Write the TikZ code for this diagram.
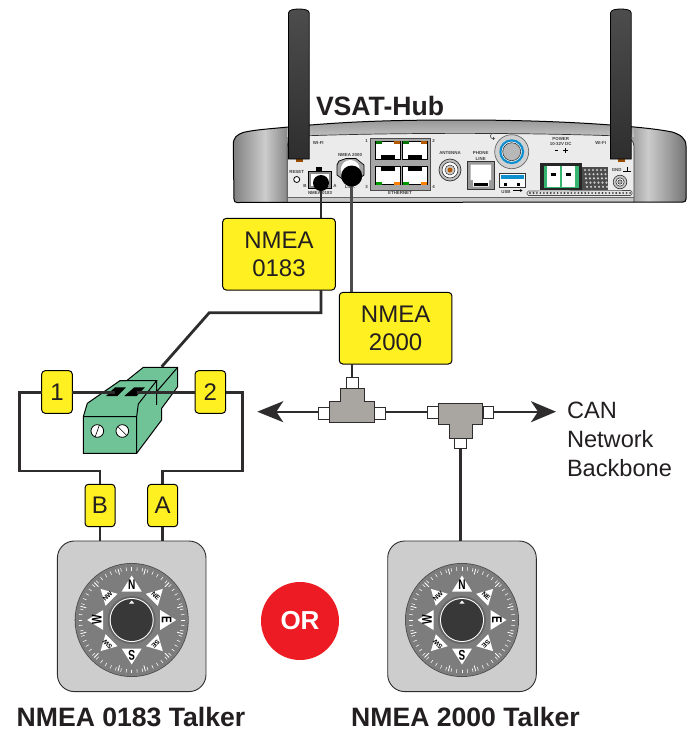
\documentclass[tikz,border=0pt]{standalone}
\usepackage{fontspec}
\setmainfont{Liberation Sans}
\usetikzlibrary{arrows.meta,calc}
\newcommand{\fsz}[2]{\fontsize{#1}{#2}\selectfont}
\definecolor{ink}{HTML}{231F20}
\definecolor{wirec}{HTML}{2E2C2D}
\definecolor{tagyellow}{HTML}{FFF021}
\definecolor{termgreen}{HTML}{6FC397}
\definecolor{plugreen}{HTML}{35B56F}
\definecolor{tgray}{HTML}{A9A5A1}
\definecolor{dialbody}{HTML}{CDCDCD}
\definecolor{dialgray}{HTML}{7D7D7D}
\definecolor{blueled}{HTML}{0F8FCE}
\definecolor{orred}{HTML}{ED1C24}
\tikzset{
  every node/.style={text=ink,inner sep=0pt,outer sep=0pt},
  tagbox/.style={draw=black,line width=1pt,fill=tagyellow,rounded corners=3.5pt,align=center,font=\fsz{24}{28.5}},
  wire/.style={draw=wirec,line width=2.8pt,line join=miter},
  netwire/.style={draw=wirec,line width=2pt},
  port/.style={draw=wirec,line width=1pt,fill=white,minimum width=10.6pt,minimum height=12pt},
  tbody/.style={draw=wirec,line width=1pt,fill=tgray},
  talker/.style={draw=wirec,line width=.9pt,fill=dialbody,rounded corners=17pt,minimum width=148.6pt,minimum height=150.6pt},
  title/.style={font=\fsz{26.6}{30}\bfseries,anchor=base,text depth=0pt},
  tiny/.style={font=\fsz{4.4}{5}\bfseries,text=black!75,align=center},
  compassdial/.pic={
    \fill[black!70] (0,0) circle (57);
    \fill[dialgray] (0,0) circle (56.2);
    \foreach \a in {0,6,...,354}{
      \draw[white,line width=.55pt,rotate=\a] (0,-49.5) -- (0,-53);
    }
    \foreach \a in {0,30,...,330}{
      \draw[white,line width=.8pt,rotate=\a+15] (0,-47) -- (0,-53);
    }
    \foreach \a/\t in {0/N,90/E,180/S,270/W}{
      \begin{scope}[rotate=-\a]
        \fill[white] (0,-44.5) -- (10,-28.5) -- (-10,-28.5) -- cycle;
        \node[font=\fsz{14}{15}\bfseries,text=black,rotate=-\a,xscale=.72] at (0,-35) {\t};
      \end{scope}
    }
    \foreach \a/\t in {45/NE,135/SE,225/SW,315/NW}{
      \begin{scope}[rotate=-\a]
        \fill[white] (0,-44) -- (8.5,-28.5) -- (-8.5,-28.5) -- cycle;
        \node[font=\fsz{6.5}{7}\bfseries,text=black,rotate=-\a] at (0,-34) {\t};
      \end{scope}
    }
    \fill[black!60] (0,0) circle (24);
    \fill[white] (0,0) circle (22);
    \fill[black!78] (0,0) circle (21);
    \fill[white] (0,-19.5) -- (2.5,-16.5) -- (-2.5,-16.5) -- cycle;
  }
}
\begin{document}
\begin{tikzpicture}[x=1pt,y=-1pt]
\useasboundingbox (0,0) rectangle (690,731);
\fill[white] (0,0) rectangle (690,731);

% ---------- hub body
\def\hubshape{(233.3,145) .. controls (233.3,137) and (237,135) .. (243,132.5) .. controls (255,129.5) and (275,128.5) .. (288,127) .. controls (350,121) and (400,120) .. (460,120) .. controls (520,120) and (580,122) .. (631,126.7) .. controls (645,128) and (660,129.5) .. (672,132) .. controls (680,134.5) and (686,138) .. (686,146) -- (686,199) .. controls (686,201) and (685,202) .. (683,202) -- (237,202.5) .. controls (235,202.5) and (234,201.5) .. (234,199) -- cycle}
\begin{scope}
  \clip \hubshape;
  \shade[left color=black!50,right color=black!20] (233,115) rectangle (265,205);
  \shade[left color=black!20,right color=black!50] (264.9,115) rectangle (290,205);
  \shade[left color=black!38,right color=black!20] (632,115) rectangle (648,205);
  \shade[left color=black!20,right color=black!55] (647.9,115) rectangle (687,205);
  \shade[top color=black!45,bottom color=black!25] (287,115) rectangle (634,136);
  \fill[black!8] (287.3,204) -- (287.3,146) .. controls (287.3,140) and (292,136.5) .. (300,136) .. controls (400,132.5) and (520,132.5) .. (620,136) .. controls (628,136.5) and (634,140) .. (634,146) -- (634,204) -- cycle;
  \fill[black!22] (287.3,197) rectangle (634,204);
  \draw[black!80,line width=.7pt] (287.3,204) -- (287.3,146) .. controls (287.3,140) and (292,136.5) .. (300,136) .. controls (400,132.5) and (520,132.5) .. (620,136) .. controls (628,136.5) and (634,140) .. (634,146) -- (634,204);
  \draw[black!60,line width=.6pt] (287.3,197) -- (634,197);
\end{scope}
\draw[black,line width=1pt] \hubshape;

% ---------- hub panel details
\node[tiny] (lblwifia) at (318.3,143) {WI-FI};
\node[tiny] (lblwifib) at (600.7,143) {WI-FI};
\node[tiny] (lblreset) at (296.7,172) {RESET};
\draw[black,line width=.8pt,fill=white] (296.7,179.5) circle (3);

% NMEA 0183 port
\fill[black] (316,166.5) rectangle (322,172);
\draw[black,line width=.8pt,fill=black!45] (308,171.7) rectangle (331.7,188);
\fill[white] (310.5,174) rectangle (329,186);
\node[tiny] (lblb) at (305,186) {B};
\node[tiny] (lbla) at (335,186) {A};
\node[tiny] (lbl0183) at (320,193) {NMEA 0183};
% NMEA 2000 connector
\node[tiny] (lbl2000) at (350,155) {NMEA 2000};
\draw[black,line width=.7pt,fill=black!35] (339,161) -- (346,158.5) -- (356,158.5) -- (364,165) -- (364,175) -- (356,181) -- (345,181) -- (337,175) -- (337,165) -- cycle;
\fill[white] (350.3,169.5) circle (9.5);
\node[tiny] (lbllink) at (350,187) {LINK};

% Ethernet block
\draw[black!70,line width=.8pt,fill=black!35] (370,138) rectangle (430,190);
\foreach \xx/\yy in {375/141,402/141}{
  \draw[black,line width=.4pt,fill=white] (\xx,\yy) rectangle ++(25.5,18);
  \fill[black] (\xx+6,\yy+14) rectangle ++(14,3.5);
  \fill[green!45!black] (\xx+.5,\yy) rectangle ++(6,2.5);
  \fill[orange!70!black] (\xx+19,\yy) rectangle ++(6,2.5);
}
\foreach \xx/\yy in {375/166.5,402/166.5}{
  \draw[black,line width=.4pt,fill=white] (\xx,\yy) rectangle ++(25.5,18);
  \fill[black] (\xx+6,\yy+.5) rectangle ++(14,3.5);
  \fill[green!60!black] (\xx+.5,\yy+15.5) rectangle ++(6,2.5);
  \fill[orange] (\xx+19,\yy+15.5) rectangle ++(6,2.5);
}
\node[tiny] (lble1) at (366.7,141) {1};
\node[tiny] (lble2) at (433.7,141) {2};
\node[tiny] (lble3) at (366.7,187) {3};
\node[tiny] (lble4) at (433.7,187) {4};
\node[tiny] (lbleth) at (400,193) {ETHERNET};

% Antenna
\node[tiny] (lblant) at (450,152.6) {ANTENNA};
\draw[black!80,line width=.7pt,fill=black!25] (450,170) circle (11);
\draw[black!80,line width=.6pt,fill=white] (450,170) circle (8);
\draw[black!80,line width=.5pt,fill=black!20] (450,170) circle (5);
\fill[orange!70!black] (450,170) circle (2.5);

% Phone line
\node[tiny] (lblphone) at (480.7,156) {PHONE\\[1pt]LINE};
\draw[black!80,line width=.7pt,fill=black!40] (467.7,161.7) rectangle (494,189.3);
\fill[white] (470.5,164.5) -- (491,164.5) -- (491,180) -- (489,180) -- (489,186.5) -- (473,186.5) -- (473,180) -- (470.5,180) -- cycle;
\fill[black] (474,182.5) rectangle (488,186);

% Power button
\draw[black!60,line width=.7pt,fill=black!18] (511.7,151.7) circle (17);
\draw[blueled,line width=2.2pt,fill=white] (511.7,151.7) circle (11.3);
\draw[black!80,line width=.6pt,fill=black!28] (511.7,151.7) circle (9);
\draw[black!70,line width=.6pt] (495,138.2) arc[start angle=50,end angle=310,radius=2.8];
\draw[black!70,line width=.6pt] (492.9,136.5) -- (492.9,140);

% USB
\draw[black!80,line width=.7pt,fill=white] (499,173) rectangle (525,187);
\fill[blueled] (500.5,175) rectangle (523.5,179);
\fill[black] (504,183) rectangle (507,186);
\fill[black] (517,183) rectangle (520,186);
\node[tiny] (lblusb) at (506,192) {USB};
\draw[black,line width=.9pt,-{Stealth[length=2.5pt,width=3pt]}] (513,190.5) -- (522.5,190.5);

% dotted strip
\draw[black!70,line width=.6pt,fill=black!10,rounded corners=1.5pt] (527,195.5) -- (527,191) -- (632,190.5) -- (632,195.5) -- cycle;
\foreach \i in {0,...,29}{
  \fill[black!75] (530+\i*3.45,193) circle (1.05);
}

% vents
\fill[black!70] (582,167) rectangle (608,190);
\foreach \r in {0,...,4}{
  \foreach \c in {0,...,5}{
    \fill[black!20] (585+\c*4+\r*.5,170+\r*4.2) circle (1.2);
  }
}

% Power connector
\node[tiny] (lblpower) at (560.7,141.5) {POWER\\[-.5pt]10-32V DC};
\draw[black,line width=.6pt] (554.5,150.5) -- (558,150.5);
\draw[black,line width=.6pt] (563,150.5) -- (567.5,150.5) (565.2,148.3) -- (565.2,152.7);
\fill[black!85] (540,162.7) rectangle (582,190);
\fill[plugreen] (543.5,165.5) rectangle (578.5,187.5);
\fill[white] (547,166) -- (559.5,166) -- (559.5,187) -- (547,187) -- cycle;
\fill[white] (562,166) -- (574.5,166) -- (574.5,187) -- (562,187) -- cycle;
\fill[black] (551,173) rectangle (556,175.5);
\fill[black] (566,173) rectangle (571,175.5);

% GND
\node[tiny] (lblgnd) at (616.7,170) {GND};
\draw[black,line width=.8pt] (627,166.5) -- (627,171) (623,171) -- (631,171);
\draw[black!80,line width=.6pt,fill=black!22] (620,182) circle (6.8);
\draw[black!80,line width=.6pt,fill=white] (620,182) circle (4.2);
\draw[black!80,line width=.6pt,fill=black!30] (620,182) circle (2.2);

% ---------- antennas
\foreach \ax in {288.5,610.5}{
  \fill[orange!60!black] (\ax+7,159) rectangle (\ax+14,161.5);
  \draw[black,line width=.8pt,top color=black!70,bottom color=black!82] (\ax,159) -- (\ax,13) .. controls (\ax,10) and (\ax+5,9) .. (\ax+10.3,9) .. controls (\ax+16,9) and (\ax+20.7,10) .. (\ax+20.7,13) -- (\ax+20.7,159) -- cycle;
}

\node[title,anchor=base west] (hubname) at (316,115) {VSAT-Hub};

% ---------- label boxes
\node[tagbox,minimum width=112.6pt,minimum height=71.6pt] (nmeaA) at (279,254.2) {NMEA\\0183};
\node[tagbox,minimum width=112.6pt,minimum height=71.6pt] (nmeaB) at (395.6,328.2) {NMEA\\2000};
\coordinate (hubA) at (321,183);
\coordinate (hubB) at (351.7,176);
\coordinate (bendA) at (321,312.7);
\coordinate (bendB) at (209.3,312.7);
\coordinate (termIn) at (161.7,366.7);

% cables from the hub
\draw[wire] (hubA) -- (hubA |- nmeaA.north);
\draw[wire,draw=black!70] (hubB) -- (hubB |- nmeaB.north);
\fill[black] (hubA) circle (8);
\fill[black] (hubB) circle (10.5);
\draw[wire] (hubA |- nmeaA.south) -- (bendA) -- (bendB) -- (termIn);

% ---------- terminal block
\begin{scope}[shift={(0,350)},x=.3333pt,y=-.3333pt]
  \draw[black,line width=1pt,fill=termgreen,line join=round] (250,200) -- (262,160) -- (360,92) -- (380,92) -- (430,52) -- (533,52) -- (533,110) -- (485,175) -- (485,210) -- (410,310) -- (250,310) -- cycle;
  \draw[black,line width=1pt] (250,200) -- (410,200) -- (410,310) (410,200) -- (415,162) -- (470,92) -- (360,92) (470,92) -- (470,165) (470,125) -- (533,52);
  \fill[black] (318,138) -- (345,112) -- (378,112) -- (352,138) -- cycle;
  \fill[black] (373,138) -- (403,112) -- (435,112) -- (410,138) -- cycle;
  \foreach \sx in {292,367}{
    \draw[black,line width=.8pt,fill=white] (\sx,243) circle (19);
  }
  \draw[black,line width=.6pt] (285,262) -- (298,226);
  \draw[black,line width=.6pt] (354,230) -- (380,256);
\end{scope}

% ---------- terminal tags and wires
\node[tagbox,minimum width=30.6pt,minimum height=42.6pt] (tagone) at (57,392) {1};
\node[tagbox,minimum width=30.6pt,minimum height=42.6pt] (tagtwo) at (210.4,392) {2};
\node[tagbox,minimum width=30pt,minimum height=42.4pt] (tagB) at (100,505.5) {B};
\node[tagbox,minimum width=30pt,minimum height=42.4pt] (tagA) at (162.7,505.5) {A};
\node[talker] (talkerA) at (131.7,616.3) {};
\node[talker] (talkerB) at (462,616.3) {};
\coordinate (slotA) at (115,392.3);
\coordinate (slotB) at (137,392.3);
\coordinate (leftX) at (19.3,392.3);
\coordinate (leftY) at (19.3,471);
\coordinate (rightX) at (242.7,392.3);
\coordinate (rightY) at (242.7,471);
\draw[wire] (tagone.east |- slotA) -- (slotA);
\draw[wire] (tagtwo.west |- slotB) -- (slotB);
\draw[wire] (tagone.west |- leftX) -- (leftX) -- (leftY) -| (tagB.north);
\draw[wire] (tagtwo.east |- rightX) -- (rightX) -- (rightY) -| (tagA.north);
\draw[wire] (tagB.south) -- (tagB.south |- talkerA.north);
\draw[wire] (tagA.south) -- (tagA.south |- talkerA.north);

% ---------- CAN network
\node[port] (tAleft) at (324,413.3) {};
\node[port] (tAright) at (379.7,413.3) {};
\node[port,minimum width=12pt,minimum height=11pt] (tAtop) at (352,382.8) {};
\node[port] (tBleft) at (433,412.7) {};
\node[port] (tBright) at (488.3,412.7) {};
\node[port,minimum width=12pt,minimum height=10.4pt] (tBbot) at (460.7,443.5) {};
\draw[tbody] (329.3,401.7) -- (340,401.7) -- (340,388.3) -- (364,388.3) -- (364,401.7) -- (374.3,401.7) -- (374.3,422.3) -- (329.3,422.3) -- cycle;
\draw[tbody] (438.3,403.3) -- (482.7,403.3) -- (482.7,424.3) -- (472.7,424.3) -- (472.7,438.3) -- (449.3,438.3) -- (449.3,424.3) -- (438.3,424.3) -- cycle;
\coordinate (netL) at (257.3,411.7);
\coordinate (netR) at (556,411.7);
\draw[netwire,-{Stealth[length=26pt,width=21pt,inset=7pt]}] (tAleft.west |- netL) -- (netL);
\draw[netwire] (tAright.east |- netL) -- (tBleft.west |- netL);
\draw[netwire,-{Stealth[length=25pt,width=21pt,inset=7pt]}] (tBright.east |- netR) -- (netR);
\draw[wire] (nmeaB.south -| tAtop) -- (tAtop.north);
\draw[wire] (tBbot.south) -- (tBbot.south |- talkerB.north);

% ---------- dials and remaining labels
\pic (dialA) at (131.7,620) {compassdial};
\pic (dialB) at (462,620) {compassdial};
\node[circle,minimum size=78pt,fill=orred] (orsign) at (300,621) {};
\node[font=\fsz{26}{30}\bfseries,text=white] (ortext) at (300,621) {OR};
\node[font=\fsz{23.6}{29},align=left,anchor=north west] (canlabel) at (567,402) {CAN\\Network\\Backbone};
\node[title] (talkerAname) at (131,726.5) {NMEA 0183 Talker};
\node[title] (talkerBname) at (465.5,726.5) {NMEA 2000 Talker};
\end{tikzpicture}
\end{document}
